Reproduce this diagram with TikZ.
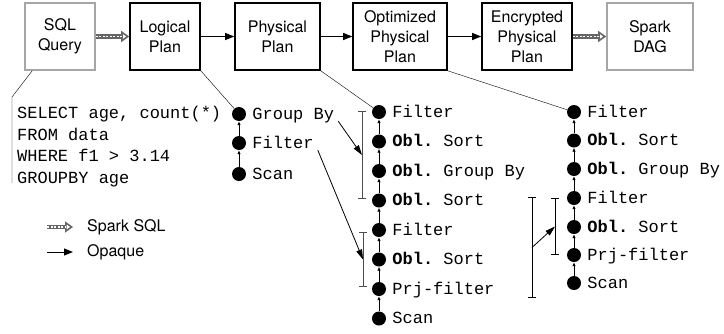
\documentclass[tikz,border=0pt]{standalone}
\usepackage{fontspec}
\setmainfont{TeX Gyre Heros}
\setmonofont{Liberation Mono}
\usetikzlibrary{arrows.meta}
\tikzset{
  plan/.style={draw, line width=1.6pt, minimum height=67pt, align=center,
    font=\fontsize{16}{20}\selectfont, inner sep=2pt},
  sparkplan/.style={plan, draw=gray!70},
  opq/.style={line width=1pt, -{Triangle[length=9pt,width=7pt]}},
  sqlarr/.style={gray!80!black, line width=4.5pt, -{Triangle[open,length=8pt,width=11pt,line width=1.6pt]},
    postaction={draw=white, line width=1.6pt, dash pattern=on 2pt off 1.5pt, shorten >=7pt, -}},
  op/.style={circle, fill, inner sep=0pt, minimum size=14pt},
  oplabel/.style={font=\fontsize{17}{20}\selectfont\ttfamily, anchor=west, inner sep=0pt,
    text height=12pt, text depth=2pt},
  up/.style={line width=0.8pt, -{Latex[length=4pt,width=3.5pt]}},
  opspan/.style={black!70, line width=1pt, {Bar[width=8pt]}-{Bar[width=8pt]}},
  pointer/.style={line width=0.8pt, -{Triangle[length=10pt,width=6pt]}},
  keytext/.style={font=\fontsize{16}{20}\selectfont, anchor=west, inner sep=0pt}
}
\begin{document}
\begin{tikzpicture}[x=1pt,y=-1pt]
  \useasboundingbox (0,0) rectangle (724,333);
  % plans
  \node [sparkplan, minimum width=70pt] (sql) at (60,36.5) {SQL\\Query};
  \node [plan, minimum width=70pt] (logical) at (165,36.5) {Logical\\Plan};
  \node [plan, minimum width=85pt] (physical) at (277.5,36.5) {Physical\\Plan};
  \node [plan, minimum width=94pt] (optimized) at (400,36.5) {Optimized\\Physical\\Plan};
  \node [plan, minimum width=90pt] (encrypted) at (527,36.5) {Encrypted\\Physical\\Plan};
  \node [sparkplan, minimum width=86pt] (dag) at (650,36.5) {Spark\\DAG};
  \draw [sqlarr] (sql) -- (logical);
  \draw [opq] (logical) -- (physical);
  \draw [opq] (physical) -- (optimized);
  \draw [opq] (optimized) -- (encrypted);
  \draw [sqlarr] (encrypted) -- (dag);

  % query
  \coordinate (codetop) at (12,97);
  \coordinate (codebot) at (12,183);
  \draw ([xshift=8pt]sql.south west) -- (codetop) -- (codebot);
  \node [oplabel] (c1) at (17,113) {SELECT age, count(*)};
  \node [oplabel] (c2) at (17,135) {FROM data};
  \node [oplabel] (c3) at (17,156) {WHERE f1 > 3.14};
  \node [oplabel] (c4) at (17,178) {GROUPBY age};

  % logical plan
  \node [op] (l1) at (239,114) {}; \node [oplabel] (l1t) at ([xshift=6pt]l1.east) {Group By};
  \node [op] (l2) at (239,143) {}; \node [oplabel] (l2t) at ([xshift=6pt]l2.east) {Filter};
  \node [op] (l3) at (239,174) {}; \node [oplabel] (l3t) at ([xshift=6pt]l3.east) {Scan};
  \draw (logical.south east) -- (l1);
  \draw [up] (l2) -- (l1);
  \draw [up] (l3) -- (l2);

  % optimized physical plan
  \node [op] (p1) at (379,112) {}; \node [oplabel] (p1t) at ([xshift=6pt]p1.east) {Filter};
  \node [op] (p2) at (379,141.5) {}; \node [oplabel] (p2t) at ([xshift=6pt]p2.east) {\textbf{Obl.} Sort};
  \node [op] (p3) at (379,171) {}; \node [oplabel] (p3t) at ([xshift=6pt]p3.east) {\textbf{Obl.} Group By};
  \node [op] (p4) at (379,200.5) {}; \node [oplabel] (p4t) at ([xshift=6pt]p4.east) {\textbf{Obl.} Sort};
  \node [op] (p5) at (379,230) {}; \node [oplabel] (p5t) at ([xshift=6pt]p5.east) {Filter};
  \node [op] (p6) at (379,259.5) {}; \node [oplabel] (p6t) at ([xshift=6pt]p6.east) {\textbf{Obl.} Sort};
  \node [op] (p7) at (379,289) {}; \node [oplabel] (p7t) at ([xshift=6pt]p7.east) {Prj-filter};
  \node [op] (p8) at (379,318.5) {}; \node [oplabel] (p8t) at ([xshift=6pt]p8.east) {Scan};
  \draw (physical.south east) -- (p1);
  \draw [up] (p2) -- (p1);
  \draw [up] (p3) -- (p2);
  \draw [up] (p4) -- (p3);
  \draw [up] (p5) -- (p4);
  \draw [up] (p6) -- (p5);
  \draw [up] (p7) -- (p6);
  \draw [up] (p8) -- (p7);
  \draw [opspan] (362,111) -- (362,199) coordinate [midway] (r1);
  \draw [opspan] (363,232) -- (363,287) coordinate [midway] (r2);
  \draw [pointer] ([xshift=4pt]l1t.south east) -- (r1);
  \draw [pointer] ([xshift=4pt]l2t.south east) -- (r2);

  % encrypted physical plan
  \node [op] (e1) at (574,112) {}; \node [oplabel] (e1t) at ([xshift=6pt]e1.east) {Filter};
  \node [op] (e2) at (574,140.5) {}; \node [oplabel] (e2t) at ([xshift=6pt]e2.east) {\textbf{Obl.} Sort};
  \node [op] (e3) at (574,169) {}; \node [oplabel] (e3t) at ([xshift=6pt]e3.east) {\textbf{Obl.} Group By};
  \node [op] (e4) at (574,198) {}; \node [oplabel] (e4t) at ([xshift=6pt]e4.east) {Filter};
  \node [op] (e5) at (574,227) {}; \node [oplabel] (e5t) at ([xshift=6pt]e5.east) {\textbf{Obl.} Sort};
  \node [op] (e6) at (574,255) {}; \node [oplabel] (e6t) at ([xshift=6pt]e6.east) {Prj-filter};
  \node [op] (e7) at (574,283) {}; \node [oplabel] (e7t) at ([xshift=6pt]e7.east) {Scan};
  \draw (optimized.south east) -- (e1);
  \draw [up] (e2) -- (e1);
  \draw [up] (e3) -- (e2);
  \draw [up] (e4) -- (e3);
  \draw [up] (e5) -- (e4);
  \draw [up] (e6) -- (e5);
  \draw [up] (e7) -- (e6);
  \draw [opspan, black] (532,197) -- (532,298) coordinate [midway] (r3);
  \draw [opspan, black] (555,198) -- (555,255) coordinate [midway] (r4);
  \draw [pointer] (r3) -- (r4);

  % legend
  \coordinate (k1) at (47,227); \coordinate (k1e) at (73,227);
  \coordinate (k2) at (47,252); \coordinate (k2e) at (73,252);
  \draw [sqlarr] (k1) -- (k1e);
  \draw [opq] (k2) -- (k2e);
  \node [keytext] (k1t) at (87,227) {Spark SQL};
  \node [keytext] (k2t) at (87,252) {Opaque};
\end{tikzpicture}
\end{document}
